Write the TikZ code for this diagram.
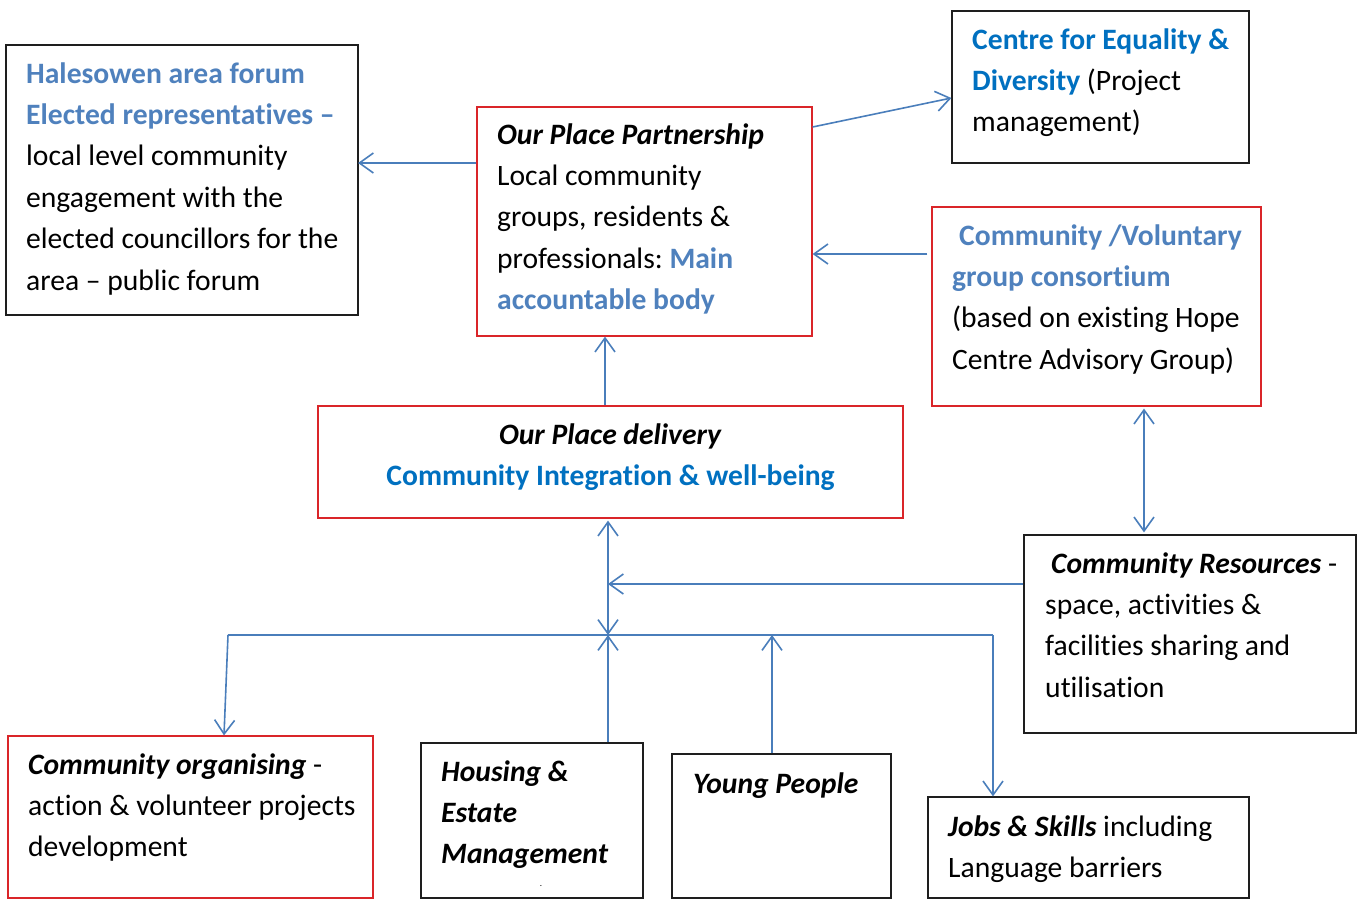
\documentclass[tikz,border=0pt]{standalone}
\usepackage{fontspec}
\setmainfont[Ligatures={TeX,NoCommon}]{Carlito}
\usetikzlibrary{arrows.meta, positioning}
\definecolor{boxred}{RGB}{218,37,41}
\definecolor{boxblack}{RGB}{30,30,30}
\definecolor{linkblue}{RGB}{74,126,187}
\definecolor{softblue}{RGB}{79,129,189}
\definecolor{deepblue}{RGB}{0,112,192}
\newcommand{\bodyfont}{\fontsize{29.6}{41.4}\selectfont}
\newcommand{\hl}[1]{\textbf{\color{softblue}#1}}
\newcommand{\hd}[1]{\textbf{\color{deepblue}#1}}
\newcommand{\bi}[1]{\textbf{\textit{#1}}}
\frenchspacing
\tikzset{
  blackbox/.style={rectangle, draw=boxblack, line width=1.2pt, inner sep=0pt},
  redbox/.style={rectangle, draw=boxred, line width=1.2pt, inner sep=0pt},
  boxtext/.style={anchor=north west, inner sep=0pt, align=left, font=\bodyfont},
  wire/.style={linkblue, line width=1.6pt},
  link/.style={wire, -{Straight Barb[length=14pt,width=20pt]}},
  twolink/.style={wire, {Straight Barb[length=14pt,width=20pt]}-{Straight Barb[length=14pt,width=20pt]}}
}

\begin{document}
\begin{tikzpicture}[x=1pt, y=-1pt]
  \useasboundingbox (0,0) rectangle (1363,899);
  % ── Boxes ──
  \node[blackbox, minimum width=352pt, minimum height=270pt] (forum) at (182,180) {};
  \node[redbox, minimum width=335pt, minimum height=229pt] (partner) at (644.5,221.5) {};
  \node[blackbox, minimum width=297pt, minimum height=152pt] (equality) at (1100.5,87) {};
  \node[redbox, minimum width=329pt, minimum height=199pt] (consortium) at (1096.5,306.5) {};
  \node[redbox, minimum width=585pt, minimum height=112pt] (delivery) at (610.5,462) {};
  \node[blackbox, minimum width=332pt, minimum height=198pt] (resources) at (1190,634) {};
  \node[redbox, minimum width=365pt, minimum height=162pt] (organising) at (190.5,817) {};
  \node[blackbox, minimum width=222pt, minimum height=155pt] (housing) at (532,820.5) {};
  \node[blackbox, minimum width=219pt, minimum height=144pt] (young) at (781.5,826) {};
  \node[blackbox, minimum width=321pt, minimum height=101pt] (jobs) at (1088.5,847.5) {};

  % ── Box texts ──
  \node[boxtext] (forum-t) at (26,54) {\strut\hl{Halesowen area forum}\\
    \hl{Elected representatives --}\\ local level community\\
    engagement with the\\ elected councillors for the\\ area -- public forum};
  \node[boxtext] (partner-t) at (497,115) {\strut\bi{Our Place Partnership}\\
    Local community\\ groups, residents \&\\ professionals: \hl{Main}\\
    \hl{accountable body}};
  \node[boxtext] (equality-t) at (972,20) {\strut\hd{Centre for Equality \&}\\
    \hd{Diversity} (Project\\ management)};
  \node[boxtext] (consortium-t) at (952,216) {\strut\hspace*{7pt}\hl{Community /Voluntary}\\
    \hl{group consortium}\\ (based on existing Hope\\ Centre Advisory Group)};
  \node[boxtext, anchor=north, align=center] (delivery-t) at (610.5,415) {\strut\bi{Our Place delivery}\\
    \hd{Community Integration \& well-being}};
  \node[boxtext] (resources-t) at (1045,544) {\strut\hspace*{6pt}\bi{Community Resources} -\\
    space, activities \&\\ facilities sharing and\\ utilisation};
  \node[boxtext] (organising-t) at (28,745) {\strut\bi{Community organising} -\\
    action \& volunteer projects\\ development};
  \node[boxtext] (housing-t) at (441,752) {\strut\bi{Housing \&}\\ \bi{Estate}\\ \bi{Management}};
  \node[font=\fontsize{9}{10}\selectfont, inner sep=0pt] (housing-dot) at (541,886) {.};
  \node[boxtext] (young-t) at (693,764) {\strut\bi{Young People}};
  \node[boxtext] (jobs-t) at (948,807) {\strut\bi{Jobs \& Skills} including\\ Language barriers};

  % ── Upper links ──
  \coordinate (forum-in) at (358,163);
  \draw[link] (partner.west |- forum-in) -- (forum-in);
  \draw[link] ([yshift=94.5pt]partner.east) -- ([yshift=-11pt]equality.west);
  \draw[link, shorten <=4pt] ([yshift=52.5pt]consortium.west) -- ([yshift=52.5pt]consortium.west -| partner.east);
  \draw[link] ([xshift=-5.5pt]delivery.north) -- ([xshift=-5.5pt]delivery.north |- partner.south);
  \draw[twolink, shorten <=2pt, shorten >=2pt] ([xshift=47.5pt]consortium.south) -- ([xshift=47.5pt]consortium.south |- resources.north);

  % ── Hub and bus ──
  \coordinate (hub) at (608,635);
  \coordinate (bus-l) at (228,635);
  \coordinate (bus-r) at (993,635);
  \draw[twolink, shorten <=2pt] (delivery.south -| hub) -- (hub);
  \draw[link] ([yshift=50pt]resources.west) -- ([yshift=50pt]resources.west -| hub);
  \draw[wire] (bus-l) -- (bus-r);

  % ── Lower links ──
  \draw[link] (bus-l) -- ([xshift=33.5pt]organising.north);
  \draw[link] (housing.north -| hub) -- (hub);
  \draw[link] ([xshift=-9.5pt]young.north) -- ([xshift=-9.5pt]young.north |- hub);
  \draw[link] (bus-r) -- (bus-r |- jobs.north);
\end{tikzpicture}
\end{document}
